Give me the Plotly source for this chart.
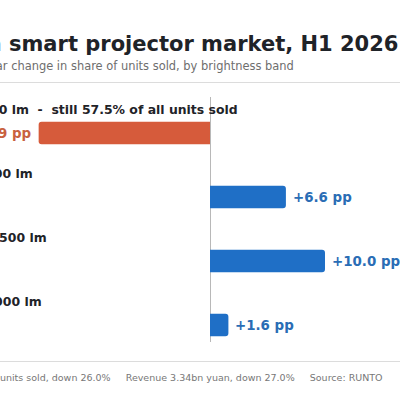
import plotly.graph_objects as go

# data
bands = ["Under 1000 lm", "1000 - 1500 lm", "1500 - 2500 lm", "2500 - 3000 lm"]
share_change = [-14.9, 6.6, 10.0, 1.6]
lead_note = "still 57.5% of all units sold"
value_labels = ["\u221214.9 pp", "+6.6 pp", "+10.0 pp", "+1.6 pp"]

title = "China smart projector market, H1 2026"
subtitle = "Year-on-year change in share of units sold, by brightness band"
footer_items = [
    "Sales: 2.87m units sold, down 26.0%",
    "Revenue 3.34bn yuan, down 27.0%",
    "Source: RUNTO",
]

# layout constants (pixels)
W, H = 400, 400
M_TOP, M_BOT = 97, 58
NEG, POS = "#d65b3b", "#1f6fc6"
NEG_TXT, POS_TXT = "#c9613f", "#2a6db5"
INK = "#1f2328"
FONT = "DejaVu Sans"
LEFT = -67
label_end_px = [239.5, 35.3, 49, 43.7]


def px_x(p):
    return p / W


def px_y(p):
    return (H - M_BOT - p) / (H - M_TOP - M_BOT)


rows = list(range(len(bands)))
colors = [NEG if v < 0 else POS for v in share_change]

fig = go.Figure(go.Bar(
    x=share_change,
    y=rows,
    orientation="h",
    width=0.35,
    marker=dict(color=colors, cornerradius=3, line_width=0),
    hoverinfo="skip",
))

annotations = []
for i, band in enumerate(bands):
    text = band
    if i == 0:
        text = band + "\u00a0\u00a0-\u00a0\u00a0" + lead_note
    annotations.append(dict(
        x=px_x(label_end_px[i]), xref="paper", xanchor="right",
        y=i - 0.36, yref="y", yanchor="middle",
        text="<b>" + text + "</b>", showarrow=False,
        font=dict(family=FONT, size=12.45, color=INK),
    ))
    v = share_change[i]
    annotations.append(dict(
        x=v, xref="x", xanchor="left" if v > 0 else "right",
        xshift=5 if v > 0 else -6,
        y=i, yref="y", yanchor="middle",
        text="<b>" + value_labels[i] + "</b>", showarrow=False,
        font=dict(family=FONT, size=13.4, color=POS_TXT if v > 0 else NEG_TXT),
    ))

annotations += [
    dict(x=px_x(LEFT), xref="paper", xanchor="left",
         y=px_y(43.5), yref="paper", yanchor="middle",
         text="<b>" + title + "</b>", showarrow=False,
         font=dict(family=FONT, size=21, color=INK)),
    dict(x=px_x(LEFT), xref="paper", xanchor="left",
         y=px_y(65.5), yref="paper", yanchor="middle",
         text=subtitle, showarrow=False,
         font=dict(family=FONT, size=11.45, color="#6e6e6e")),
    dict(x=px_x(LEFT), xref="paper", xanchor="left",
         y=px_y(377.5), yref="paper", yanchor="middle",
         text=("\u00a0" * 5).join(footer_items), showarrow=False,
         font=dict(family=FONT, size=9.5, color="#777777")),
]

shapes = [
    dict(type="line", xref="paper", yref="paper", x0=0, x1=1,
         y0=px_y(y), y1=px_y(y), line=dict(color="#dcdcdc", width=1))
    for y in (82.5, 361.5)
]

fig.update_layout(
    width=W, height=H,
    margin=dict(l=0, r=0, t=M_TOP, b=M_BOT),
    paper_bgcolor="white", plot_bgcolor="white",
    showlegend=False,
    xaxis=dict(range=[-210 / 11.5, 190 / 11.5], showgrid=False,
               showticklabels=False, zeroline=True,
               zerolinecolor="#b8b8b8", zerolinewidth=1, fixedrange=True),
    yaxis=dict(range=[3.2656, -0.5625], showgrid=False, zeroline=False,
               showticklabels=False, fixedrange=True),
    annotations=annotations,
    shapes=shapes,
    font=dict(family=FONT),
)

# the page's default body margin would push the figure 8px down and right
fig.write_html("out.html", config={"displayModeBar": False},
               post_script="document.body.style.margin = '0';")
